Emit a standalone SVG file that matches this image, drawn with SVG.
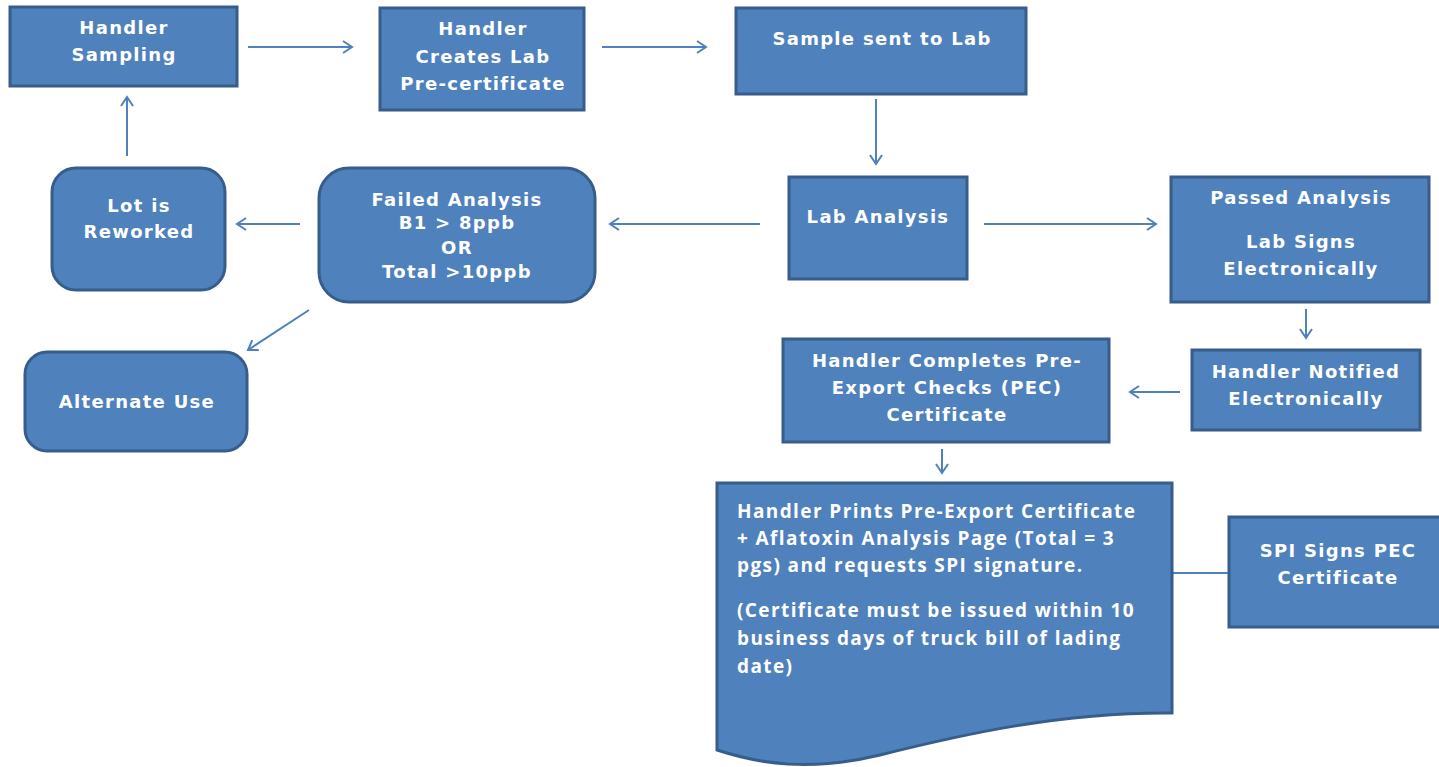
<svg xmlns="http://www.w3.org/2000/svg" width="1439" height="767" viewBox="0 0 1439 767">
<defs>
<marker id="ah" markerWidth="14" markerHeight="14" refX="11" refY="7" orient="auto" markerUnits="userSpaceOnUse">
<path d="M2,1 L11,7 L2,13" fill="none" stroke="#4F81BD" stroke-width="2"/>
</marker>
<style>
.box{fill:#4F81BD;stroke:#385D8A;stroke-width:3}
.t{fill:#fff;font-family:"DejaVu Sans",Verdana,sans-serif;font-weight:bold;font-size:18px;letter-spacing:1.3px;text-anchor:middle;dominant-baseline:central}
.d{fill:#fff;font-family:"Open Sans","Liberation Sans",sans-serif;font-weight:bold;font-size:19px;letter-spacing:1.4px;dominant-baseline:central}
.c{fill:none;stroke:#4F81BD;stroke-width:2}
.a{marker-end:url(#ah)}
</style>
</defs>
<rect width="1439" height="767" fill="#fff"/>
<g id="connectors">
<line class="c a" x1="248" y1="47" x2="352" y2="47"/>
<line class="c a" x1="602" y1="47" x2="706" y2="47"/>
<line class="c a" x1="876" y1="99" x2="876" y2="164"/>
<line class="c a" x1="984" y1="224" x2="1156" y2="224"/>
<line class="c a" x1="760" y1="224" x2="610" y2="224"/>
<line class="c a" x1="300" y1="224" x2="237" y2="224"/>
<line class="c a" x1="127" y1="156" x2="127" y2="97"/>
<line class="c a" x1="309" y1="310" x2="248" y2="350"/>
<line class="c a" x1="1306" y1="309" x2="1306" y2="338"/>
<line class="c a" x1="1180" y1="392" x2="1130" y2="392"/>
<line class="c a" x1="942" y1="449" x2="942" y2="473"/>
<line class="c" x1="1172" y1="573" x2="1229" y2="573"/>
</g>
<g id="handler-sampling">
<rect class="box" x="10" y="7" width="227" height="79"/>
<text class="t" x="124" y="27">Handler</text>
<text class="t" x="124" y="54">Sampling</text>
</g>
<g id="handler-creates">
<rect class="box" x="380" y="8" width="204" height="102"/>
<text class="t" x="483" y="28">Handler</text>
<text class="t" x="483" y="56">Creates Lab</text>
<text class="t" x="483" y="83">Pre-certificate</text>
</g>
<g id="sample-sent">
<rect class="box" x="736" y="8" width="290" height="86"/>
<text class="t" x="882" y="38">Sample sent to Lab</text>
</g>
<g id="lab-analysis">
<rect class="box" x="789" y="177" width="178" height="102"/>
<text class="t" x="878" y="216">Lab Analysis</text>
</g>
<g id="passed-analysis">
<rect class="box" x="1171" y="177" width="258" height="125"/>
<text class="t" x="1301" y="197">Passed Analysis</text>
<text class="t" x="1301" y="241">Lab Signs</text>
<text class="t" x="1301" y="268">Electronically</text>
</g>
<g id="handler-notified">
<rect class="box" x="1192" y="350" width="228" height="80"/>
<text class="t" x="1306" y="371">Handler Notified</text>
<text class="t" x="1306" y="398">Electronically</text>
</g>
<g id="handler-completes">
<rect class="box" x="783" y="339" width="326" height="103"/>
<text class="t" x="947" y="360">Handler Completes Pre-</text>
<text class="t" x="947" y="387">Export Checks (PEC)</text>
<text class="t" x="947" y="414">Certificate</text>
</g>
<g id="failed-analysis">
<rect class="box" x="319" y="168" width="276" height="134" rx="30" ry="30"/>
<text class="t" x="457" y="199">Failed Analysis</text>
<text class="t" x="457" y="222">B1 &gt; 8ppb</text>
<text class="t" x="457" y="247">OR</text>
<text class="t" x="457" y="271">Total &gt;10ppb</text>
</g>
<g id="lot-reworked">
<rect class="box" x="52" y="168" width="173" height="122" rx="24" ry="24"/>
<text class="t" x="139" y="205">Lot is</text>
<text class="t" x="139" y="231">Reworked</text>
</g>
<g id="alternate-use">
<rect class="box" x="25" y="352" width="222" height="99" rx="22" ry="22"/>
<text class="t" x="137" y="401">Alternate Use</text>
</g>
<g id="handler-prints">
<path class="box" d="M717,483 H1172 V713 C1060,712 960,735 880,755 C810,772 760,764 717,750 Z"/>
<text class="d" x="737" y="511">Handler Prints Pre-Export Certificate</text>
<text class="d" x="737" y="538">+ Aflatoxin Analysis Page (Total = 3</text>
<text class="d" x="737" y="565">pgs) and requests SPI signature.</text>
<text class="d" x="737" y="610">(Certificate must be issued within 10</text>
<text class="d" x="737" y="638">business days of truck bill of lading</text>
<text class="d" x="737" y="666">date)</text>
</g>
<g id="spi-signs">
<rect class="box" x="1229" y="517" width="215" height="110"/>
<text class="t" x="1338" y="550">SPI Signs PEC</text>
<text class="t" x="1338" y="577">Certificate</text>
</g>
</svg>
